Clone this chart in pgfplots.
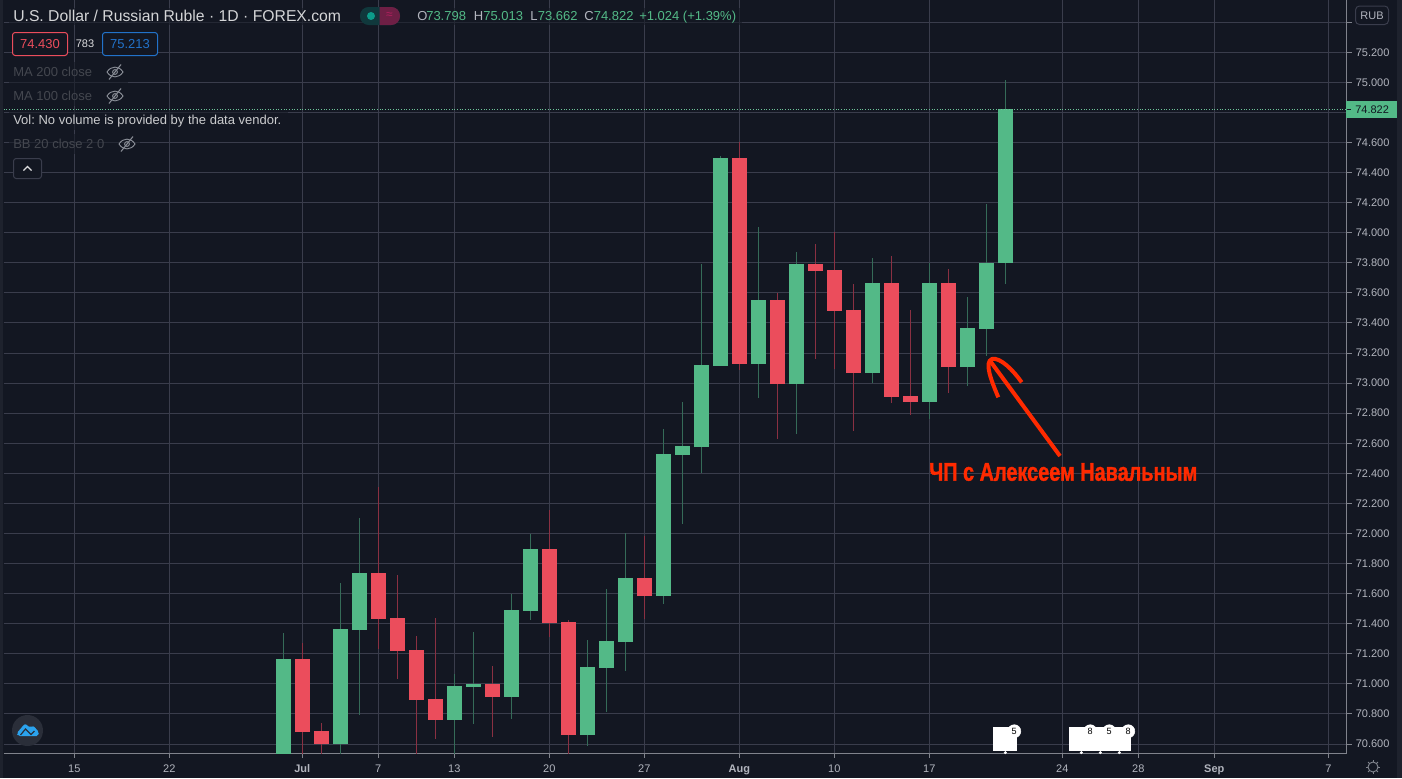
\documentclass[border=0pt]{standalone}
\usepackage{fontspec}
\setmainfont{Liberation Sans}
\newfontfamily\redfont[BoldFeatures={FakeBold=1.6}]{Liberation Sans}
\frenchspacing
\usepackage{graphicx}
\usepackage{pgfplots}
\usepackage{pgfplotstable}
\pgfplotsset{compat=1.18}
\definecolor{bg}{HTML}{131722}
\definecolor{strip}{HTML}{1E222D}
\definecolor{gridc}{HTML}{3A3D4C}
\definecolor{axisc}{HTML}{80838C}
\definecolor{tickt}{HTML}{B2B5BE}
\definecolor{up}{HTML}{53B987}
\definecolor{down}{HTML}{EB4D5C}
\definecolor{upw}{HTML}{356B58}
\definecolor{downw}{HTML}{8A3042}
\definecolor{dim}{HTML}{44474F}
\definecolor{red1}{HTML}{FF2A00}
\definecolor{HTMLpill}{HTML}{6E1F45}
\definecolor{HTMLteal}{HTML}{10383C}
\definecolor{HTMLdot}{HTML}{0C9C8A}
\definecolor{HTMLmag}{HTML}{B0205E}
\definecolor{HTMLblue}{HTML}{2272C9}
\definecolor{HTMLlogo}{HTML}{2A2E39}
\definecolor{HTMLcloud}{HTML}{2BA3EE}
\pgfplotstableread{
x open close high low
0 70.45 71.166 71.336 70.40
3 70.600 71.365 71.671 70.45
4 71.358 71.737 72.103 70.795
9 70.760 70.986 71.066 70.45
10 70.979 70.999 71.345 70.733
12 70.913 71.491 71.598 70.767
13 71.485 71.897 71.997 71.425
16 70.660 71.112 71.292 70.587
17 71.106 71.285 71.631 70.813
18 71.278 71.704 72.003 71.086
20 71.584 72.529 72.695 71.531
21 72.522 72.582 72.875 72.063
22 72.575 73.121 73.792 72.402
23 73.114 74.497 74.510 73.114
25 73.127 73.553 74.038 72.901
27 72.994 73.792 73.872 72.662
31 73.067 73.666 73.832 73.001
34 72.875 73.666 73.797 72.762
36 73.107 73.367 73.573 72.981
37 73.360 73.799 74.191 73.180
38 73.798 74.822 75.013 73.662
}\upcandles
\pgfplotstableread{
x open close high low
1 71.166 70.680 71.274 70.45
2 70.687 70.600 70.740 70.45
5 71.737 71.431 72.307 71.232
6 71.438 71.219 71.724 71.032
7 71.225 70.893 71.318 70.45
8 70.900 70.760 71.438 70.634
11 70.999 70.913 71.119 70.647
14 71.897 71.405 72.156 71.312
15 71.412 70.660 71.425 70.45
19 71.704 71.584 71.983 71.431
24 74.497 73.127 74.603 73.087
26 73.553 72.994 73.597 72.628
28 73.792 73.745 73.925 73.160
29 73.752 73.480 74.005 73.094
30 73.486 73.067 73.659 72.682
32 73.666 72.908 73.845 72.868
33 72.914 72.875 73.486 72.788
35 73.666 73.107 73.761 72.934
}\downcandles
\pgfplotstableread{
x y label
38.47 70.685 5
42.47 70.685 8
43.47 70.685 5
44.47 70.685 8
}\events
\pgfplotstableread{
x y
38 70.543
42 70.543
43 70.543
44 70.543
}\eventdots
\newcommand\fs[1]{\fontsize{#1}{#1}\selectfont}
% eye-slash icon, pixel coordinates
\newcommand\eye[2]{%
  \draw[tickt!75!bg,line width=.7pt] (#1-8,#2) .. controls (#1-4,#2-6.5) and (#1+4,#2-6.5) .. (#1+8,#2)
     .. controls (#1+4,#2+6.5) and (#1-4,#2+6.5) .. (#1-8,#2);
  \draw[tickt!75!bg,line width=.7pt] (#1,#2) circle[radius=2.4];
  \draw[tickt!75!bg,line width=.8pt] (#1-6,#2+7.5) -- (#1+6,#2-7.5);}
\begin{document}
\begin{tikzpicture}
\useasboundingbox (0pt,0pt) rectangle (1051.5pt,-583.5pt);
\fill[bg] (0pt,0pt) rectangle (1051.5pt,-583.5pt);
\fill[strip] (0pt,0pt) rectangle (2.6pt,-583.5pt);
\fill[strip] (1047.75pt,0pt) rectangle (1051.5pt,-583.5pt);
\begin{axis}[
  at={(2.625pt,-564.75pt)}, anchor=south west,
  scale only axis, width=1007.25pt, height=564.75pt,
  xmin=-14.726, xmax=55.958, ymin=70.5405, ymax=75.5472,
  axis x line=bottom, axis y line=right,
  axis line style={-,color=axisc,line width=.75pt},
  tick style={color=axisc,line width=.75pt},
  major tick length=3.75pt, tick align=outside,
  grid=major, grid style={color=gridc,line width=.75pt},
  xtick={-11,-6,1,5,9,14,19,24,29,34,41,45,49,55},
  xticklabels={15,22,\textbf{Jul},7,13,20,27,\textbf{Aug},10,17,24,28,\textbf{Sep},7},
  ytick={70.6,70.8,71,71.2,71.4,71.6,71.8,72,72.2,72.4,72.6,72.8,73,73.2,73.4,73.6,73.8,74,74.2,74.4,74.6,74.8,75,75.2,75.4},
  yticklabels={70.600,70.800,71.000,71.200,71.400,71.600,71.800,72.000,72.200,72.400,72.600,72.800,73.000,73.200,73.400,73.600,73.800,74.000,74.200,74.400,74.600,{},75.000,75.200,{}},
  ticklabel style={font=\fs{8.25},text=tickt},
  xticklabel style={inner sep=0pt,yshift=-4.75pt},
  yticklabel style={inner sep=0pt,xshift=3pt},
  clip=true,
]
% wicks
\addplot[draw=none,mark=none,error bars/.cd,y dir=both,y explicit,error mark=none,
  error bar style={color=upw,line width=.75pt}]
  table[x=x,y=open,y error plus expr=\thisrow{high}-\thisrow{open},y error minus expr=\thisrow{open}-\thisrow{low}] {\upcandles};
\addplot[draw=none,mark=none,error bars/.cd,y dir=both,y explicit,error mark=none,
  error bar style={color=downw,line width=.75pt}]
  table[x=x,y=open,y error plus expr=\thisrow{high}-\thisrow{open},y error minus expr=\thisrow{open}-\thisrow{low}] {\downcandles};
% bodies
\addplot[draw=none,mark=none,error bars/.cd,y dir=plus,y explicit,error mark=none,
  error bar style={color=up,line width=11.25pt}]
  table[x=x,y=open,y error plus expr=\thisrow{close}-\thisrow{open}] {\upcandles};
\addplot[draw=none,mark=none,error bars/.cd,y dir=plus,y explicit,error mark=none,
  error bar style={color=down,line width=11.25pt}]
  table[x=x,y=close,y error plus expr=\thisrow{open}-\thisrow{close}] {\downcandles};
% last price line
\addplot[color=up!85!white,line width=.75pt,dash pattern=on .9pt off 1.1pt] coordinates {(-14.726,74.822) (55.958,74.822)};
% events
\addplot[fill=white,draw=none] coordinates {(37.34,70.556) (38.6,70.556) (38.6,70.715) (37.34,70.715)} --cycle;
\addplot[fill=white,draw=none] coordinates {(41.34,70.556) (44.6,70.556) (44.6,70.715) (41.34,70.715)} --cycle;
\addplot[only marks,color=white,mark=*,mark size=4.9pt,mark options={fill=white,draw=white},
  point meta=explicit symbolic,nodes near coords,
  every node near coord/.append style={anchor=center,inner sep=0pt,font=\fs{6.8},text=black}]
  table[x=x,y=y,meta=label] {\events};
\addplot[only marks,color=white,mark=*,mark size=.9pt,mark options={fill=white,draw=white}] table[x=x,y=y] {\eventdots};
\end{axis}
\begin{scope}[x=.75pt,y=-.75pt]
% translucent legend backing
\fill[bg,opacity=.55] (9,8) rectangle (742,25);
\fill[bg,opacity=.55] (9,62) rectangle (128,106);
\fill[bg,opacity=.55] (9,110) rectangle (288,130);
\fill[bg,opacity=.55] (9,134) rectangle (140,154);
% title
\node[anchor=west,inner sep=0,text=white!82!bg] at (13,16) {\fs{11.8}U.S. Dollar / Russian Ruble · 1D · FOREX.com};
% pill
\fill[rounded corners=6.5pt,fill=HTMLteal] (360,7) rectangle (400,25);
\begin{scope}\clip (379.5,0) rectangle (405,30);
\fill[rounded corners=6.5pt,fill=HTMLpill] (360,7) rectangle (400,25);
\end{scope}
\fill[HTMLdot] (371,16) circle[radius=4];
\node[text=HTMLmag,inner sep=0,font=\fs{9}] at (389.5,16) {≈};
% OHLC
\foreach \xa/\la/\xb/\vb in {417/O/426/73.798,473.5/H/483/75.013,530/L/537.5/73.662,584/C/593.5/74.822}{
  \node[anchor=west,inner sep=0,text=tickt,font=\fs{9.75}] at (\xa,16) {\la};
  \node[anchor=west,inner sep=0,text=up,font=\fs{9.75}] at (\xb,16) {\vb};
}
\node[anchor=west,inner sep=0,text=up,font=\fs{9.75}] at (639,17) {+1.024 (+1.39\%)};
% bid/ask boxes
\draw[draw=down,fill=bg,rounded corners=2pt,line width=.75pt] (12.5,32.5) rectangle (67.5,55.5);
\node[text=down,inner sep=0,font=\fs{9.75}] at (40,44) {74.430};
\node[text=white!85!bg,inner sep=0,font=\fs{8.25}] at (85,44) {783};
\draw[draw=HTMLblue,fill=bg,rounded corners=2pt,line width=.75pt] (102.5,32.5) rectangle (157.5,55.5);
\node[text=HTMLblue,inner sep=0,font=\fs{9.75}] at (130,44) {75.213};
% legend rows
\node[anchor=west,inner sep=0,text=dim,font=\fs{9.75}] at (13,72) {MA 200 close};
\eye{115}{72}
\node[anchor=west,inner sep=0,text=dim,font=\fs{9.75}] at (13,96) {MA 100 close};
\eye{115}{96}
\node[anchor=west,inner sep=0,text=white!78!bg,font=\fs{9.75}] at (13,121.5) {Vol: No volume is provided by the data vendor.};
\node[anchor=west,inner sep=0,text=dim,font=\fs{9.75}] at (13,144) {BB 20 close 2 0};
\eye{127}{144}
\draw[draw=gridc,rounded corners=2pt,line width=.75pt,fill=bg] (13.5,158.5) rectangle (41.5,178.5);
\draw[white!85!bg,line width=1pt] (23.5,170.5) -- (27.5,166.5) -- (31.5,170.5);
% RUB button
\draw[draw=gridc,fill=bg,rounded corners=3pt,line width=.75pt] (1355.5,6) rectangle (1388.5,24.5);
\node[text=tickt,inner sep=0,font=\fs{8.25}] at (1372,15.5) {RUB};
% last price tag
\fill[up] (1346,101) rectangle (1397,118);
\draw[bg,line width=.75pt] (1346.5,109.5) -- (1351,109.5);
\node[anchor=west,inner sep=0,text=bg,font=\fs{8.25}] at (1355,109.5) {74.822};
% logo
\fill[HTMLlogo] (27.5,730.5) circle[radius=15.5];
\fill[HTMLcloud,rounded corners=1.5pt] (16.5,733.5) -- (25,723.5) -- (30.5,728) -- (33,725.5) -- (39,732) -- (38.5,736) -- (18,736) -- cycle;
\draw[HTMLlogo,line width=.9pt] (20.5,735) -- (25.5,729) -- (31,734.5) -- (34.5,731);
% sun icon
\draw[tickt!70!bg,line width=.7pt] (1373,767) circle[radius=5];
\foreach \a in {0,45,...,315}{\draw[tickt!70!bg,line width=.7pt] (1373,767) ++(\a:5) -- ++(\a:2);}
% annotation
\draw[red1,line width=3pt,line cap=butt] (1060,456) -- (990.7,361.7);
\draw[red1,line width=3pt,line cap=butt] (998.3,397.3) .. controls (991,380) and (984,362) .. (992,359) .. controls (1000,357) and (1013,370) .. (1021.7,382.3);
\node[anchor=west,inner sep=0,text=red1] at (929,472) {\resizebox{201pt}{13.2pt}{\redfont\bfseries ЧП с Алексеем Навальным}};
\end{scope}
\end{tikzpicture}
\end{document}
